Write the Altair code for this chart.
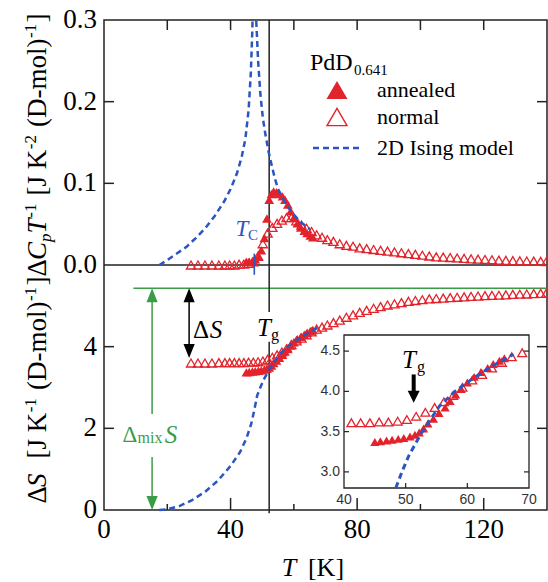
import altair as alt
import pandas as pd

# ---------------- data ----------------
T_ANN = [45.0, 45.9, 46.9, 47.8, 48.8, 49.7, 50.7, 51.5, 52.2, 52.9, 53.6, 54.5,
         55.4, 56.4, 57.2, 58.1, 59.0, 60.0, 61.1, 62.2, 63.3, 64.2, 65.2, 66.0]
C_ANN = [0.004, 0.004, 0.005, 0.007, 0.010, 0.018, 0.033, 0.057, 0.080, 0.087, 0.090, 0.089,
         0.087, 0.084, 0.080, 0.074, 0.066, 0.058, 0.051, 0.046, 0.042, 0.039, 0.036, 0.034]
S_ANN = [3.37, 3.38, 3.39, 3.40, 3.41, 3.42, 3.44, 3.46, 3.49, 3.54, 3.60, 3.66,
         3.73, 3.80, 3.88, 3.96, 4.03, 4.11, 4.18, 4.24, 4.29, 4.34, 4.38, 4.41]

T_NOR = [27.5, 29.7, 31.9, 34.1, 36.3,
         38.2, 39.7, 41.2, 42.7, 44.2, 45.7, 47.2, 48.7, 50.2, 51.7,
         53.2, 54.7, 56.2, 57.7, 59.2, 60.8, 62.4, 64.0, 65.6, 67.2,
         68.9, 70.6, 72.5, 74.5, 76.6, 78.7, 80.8, 83.0, 85.2, 87.4,
         89.6, 91.8, 94.0, 96.2, 98.4, 100.6, 102.8, 105.0, 107.2, 109.4,
         111.6, 113.8, 116.0, 118.2, 120.4, 122.6, 124.8, 127.0, 129.2, 131.4,
         133.6, 135.8, 138.0, 139.8]
C_NOR = [0.000, 0.000, 0.000, 0.000, 0.000,
         0.000, 0.000, 0.000, 0.001, 0.001, 0.002, 0.004, 0.011, 0.026, 0.039,
         0.046, 0.051, 0.055, 0.058, 0.058, 0.054, 0.049, 0.045, 0.041, 0.037,
         0.034, 0.031, 0.029, 0.026, 0.024, 0.023, 0.021, 0.020, 0.019, 0.018,
         0.017, 0.016, 0.015, 0.014, 0.013, 0.012, 0.011, 0.010, 0.0097, 0.0092,
         0.0086, 0.0081, 0.0076, 0.0072, 0.0068, 0.0064, 0.0060, 0.0057, 0.0054, 0.0051,
         0.0049, 0.0047, 0.0045, 0.0043]
S_NOR = [3.60, 3.60, 3.60, 3.60, 3.61,
         3.61, 3.61, 3.61, 3.61, 3.61, 3.62, 3.62, 3.63, 3.65, 3.69,
         3.74, 3.80, 3.87, 3.95, 4.05, 4.14, 4.21, 4.29, 4.36, 4.43,
         4.48, 4.53, 4.59, 4.65, 4.72, 4.78, 4.84, 4.89, 4.94, 4.98,
         5.02, 5.05, 5.08, 5.11, 5.13, 5.15, 5.17, 5.18, 5.19, 5.20,
         5.21, 5.22, 5.23, 5.24, 5.25, 5.255, 5.26, 5.27, 5.28, 5.285,
         5.29, 5.30, 5.305, 5.31]

ISING_TL = [17.5, 20, 23, 26, 29, 32, 35, 38, 40, 42, 43.5, 44.7, 45.7, 46.4, 46.9, 47.2]
ISING_CL = [0, 0.006, 0.014, 0.022, 0.033, 0.045, 0.060, 0.078, 0.093, 0.112, 0.132, 0.155,
            0.190, 0.235, 0.290, 0.360]
ISING_TR = [47.7, 48.1, 48.7, 49.4, 50.2, 51.0, 52.0, 53.0, 54.0, 55.0, 57.0, 59.0, 62.0, 65.0]
ISING_CR = [0.360, 0.300, 0.250, 0.210, 0.180, 0.160, 0.139, 0.122, 0.106, 0.093, 0.078,
            0.066, 0.053, 0.044]
ISING_TS = [17.5, 20, 24, 28, 32, 36, 40, 43, 45, 46.5, 47.5, 48.4, 49.5, 50.5, 52.3,
            54.0, 55.5, 58.0, 60.9, 63.5, 66.3, 67.5]
ISING_S = [0, 0.02, 0.10, 0.25, 0.45, 0.72, 1.08, 1.42, 1.75, 2.10, 2.45, 2.80, 3.02,
           3.20, 3.45, 3.65, 3.82, 4.00, 4.16, 4.29, 4.41, 4.46]

MIX_S = 5.43
T_G = 52.2
T_C = 47.5

TOP_YLABELS = [0.0, 0.1, 0.2, 0.3]
TOP_YTEXT = ["0.0", "0.1", "0.2", "0.3"]
BOT_YLABELS = [0, 2, 4]
BOT_XLABELS = [0, 40, 80, 120]
TOP_XTICKS = [20, 40, 60, 80, 100, 120]
BOT_MAJOR = [40, 80, 120]
BOT_MINOR = [20, 60, 100]
TOP_YTICKS = [0.1, 0.2]
BOT_YTICKS = [2, 4]
IN_XLABELS = [40, 50, 60, 70]
IN_XTICKS = [50, 60]
IN_YTICKS = [3.0, 3.5, 4.0, 4.5]
IN_YTEXT = ["3.0", "3.5", "4.0", "4.5"]

# ---------------- styling ----------------
SERIF = "Liberation Serif"
SANS = "Liberation Sans"
RED = "#e3232b"
BLUE = "#2c55c2"
GREEN = "#3b9c48"
INK = "#222222"
W, H = 443, 490
LBL = 27

xs = alt.Scale(domain=[0, 140], nice=False, zero=False)
ysT = alt.Scale(domain=[0, 0.3], range=[245, 0], nice=False, zero=False)
ysB = alt.Scale(domain=[0, 6], range=[490, 245], nice=False, zero=False)
xsI = alt.Scale(domain=[40, 70], range=[240, 425], nice=False, zero=False)
ysI = alt.Scale(domain=[2.8, 4.7], range=[468, 315], nice=False, zero=False)

nor = pd.DataFrame({"T": T_NOR, "C": C_NOR, "S": S_NOR})
ann = pd.DataFrame({"T": T_ANN, "C": C_ANN, "S": S_ANN})
isA = pd.DataFrame({"T": ISING_TL + ISING_TR, "C": ISING_CL + ISING_CR,
                    "b": ["L"] * len(ISING_TL) + ["R"] * len(ISING_TR)})
isB = pd.DataFrame({"T": ISING_TS, "S": ISING_S})
norI = nor[(nor["T"] >= 40) & (nor["T"] <= 70)]
annI = ann[(ann["T"] >= 40) & (ann["T"] <= 70)]
isI = isB[(isB["S"] >= 2.8)]
one = pd.DataFrame({"k": [0]})

# Times / Liberation Serif advance widths (em)
EM = {"Δ": 0.612, "C": 0.667, "p": 0.5, "T": 0.556, "S": 0.5, "-": 0.333, "1": 0.5, "2": 0.5,
      " ": 0.25, "[": 0.333, "]": 0.333, "J": 0.389, "K": 0.722, "(": 0.333,
      ")": 0.333, "D": 0.722, "m": 0.778, "o": 0.5, "l": 0.278}


def tw(s, size):
    return sum(EM.get(ch, 0.5) for ch in s) * size


def txt(text, x, y, size, color="black", style="normal", align="center", font=SERIF):
    return alt.Chart(one).mark_text(text=text, fontSize=size, fontStyle=style, color=color,
                                    align=align, baseline="middle", font=font).encode(
        x=alt.value(x), y=alt.value(y))


def vtitle(pieces, bx, center_y):
    """Rotated (reading upward) title from pieces: (text, size, style, shift, gap_before_em)."""
    total = sum(tw(p[0], p[1]) + p[4] * p[1] for p in pieces)
    y = center_y + total / 2.0
    out = []
    for text, size, style, shift, gap in pieces:
        y -= gap * size
        out.append(alt.Chart(one).mark_text(text=text, fontSize=size, fontStyle=style,
                                            color="black", align="left", baseline="alphabetic",
                                            angle=270, font=SERIF).encode(
            x=alt.value(bx + shift), y=alt.value(y)))
        y -= tw(text, size)
    return out


def head(path, size, color):
    return dict(shape=path, size=size, filled=True, color=color, opacity=1, strokeWidth=0)


UP = "M0,0L-0.8,2L0.8,2Z"
DOWN = "M0,0L-0.8,-2L0.8,-2Z"
DOWN_I = "M0,0L-1,-2L1,-2Z"

layers = []

# ---------------- top panel ----------------
layers.append(alt.Chart(pd.DataFrame({"v": TOP_YTICKS})).mark_rule(color=INK, strokeWidth=1.5).encode(
    x=alt.value(0), x2=alt.value(10), y=alt.Y("v:Q", scale=ysT, axis=None)))
layers.append(alt.Chart(pd.DataFrame({"v": TOP_YTICKS})).mark_rule(color=INK, strokeWidth=1.5).encode(
    x=alt.value(W), x2=alt.value(W - 10), y=alt.Y("v:Q", scale=ysT, axis=None)))
layers.append(alt.Chart(pd.DataFrame({"v": TOP_XTICKS})).mark_rule(color=INK, strokeWidth=1.5).encode(
    x=alt.X("v:Q", scale=xs, axis=None), y=alt.value(0), y2=alt.value(10)))
layers.append(alt.Chart(pd.DataFrame({"v": TOP_YLABELS, "t": TOP_YTEXT})).mark_text(
    font=SERIF, fontSize=LBL, color="black", align="right", baseline="middle").encode(
    x=alt.value(-7), y=alt.Y("v:Q", scale=ysT, axis=None), text="t:N"))
layers.append(alt.Chart(pd.DataFrame({"v": [0.0]})).mark_rule(color=INK, strokeWidth=1.5).encode(
    x=alt.value(0), x2=alt.value(W), y=alt.Y("v:Q", scale=ysT, axis=None)))
layers.append(alt.Chart(pd.DataFrame({"T": [T_G]})).mark_rule(color=INK, strokeWidth=1.5).encode(
    x=alt.X("T:Q", scale=xs, axis=None), y=alt.value(0), y2=alt.value(245)))
layers.append(alt.Chart(nor).mark_point(shape="triangle-up", filled=False, color=RED, size=85,
                                        strokeWidth=1.3, opacity=1).encode(
    x=alt.X("T:Q", scale=xs, axis=None), y=alt.Y("C:Q", scale=ysT, axis=None)))
layers.append(alt.Chart(ann).mark_point(shape="triangle-up", filled=True, color=RED, size=95,
                                        opacity=1).encode(
    x=alt.X("T:Q", scale=xs, axis=None), y=alt.Y("C:Q", scale=ysT, axis=None)))
layers.append(alt.Chart(isA).mark_line(color=BLUE, strokeDash=[6, 4], strokeWidth=2.5, clip=True).encode(
    x=alt.X("T:Q", scale=xs, axis=None), y=alt.Y("C:Q", scale=ysT, axis=None), detail="b:N"))
layers.append(alt.Chart(pd.DataFrame({"T": [T_C], "a": [0.014], "b": [-0.012]})).mark_rule(
    color=BLUE, strokeWidth=1.6).encode(
    x=alt.X("T:Q", scale=xs, axis=None), y=alt.Y("a:Q", scale=ysT, axis=None), y2="b:Q"))

# ---------------- bottom panel ----------------
layers.append(alt.Chart(pd.DataFrame({"v": BOT_YTICKS})).mark_rule(color=INK, strokeWidth=1.5).encode(
    x=alt.value(0), x2=alt.value(10), y=alt.Y("v:Q", scale=ysB, axis=None)))
layers.append(alt.Chart(pd.DataFrame({"v": BOT_YTICKS})).mark_rule(color=INK, strokeWidth=1.5).encode(
    x=alt.value(W), x2=alt.value(W - 10), y=alt.Y("v:Q", scale=ysB, axis=None)))
layers.append(alt.Chart(pd.DataFrame({"v": BOT_MAJOR})).mark_rule(color=INK, strokeWidth=1.5).encode(
    x=alt.X("v:Q", scale=xs, axis=None), y=alt.value(H), y2=alt.value(H - 12)))
layers.append(alt.Chart(pd.DataFrame({"v": BOT_MINOR})).mark_rule(color=INK, strokeWidth=1.5).encode(
    x=alt.X("v:Q", scale=xs, axis=None), y=alt.value(H), y2=alt.value(H - 6)))
layers.append(alt.Chart(pd.DataFrame({"v": BOT_YLABELS})).mark_text(
    font=SERIF, fontSize=LBL, color="black", align="right", baseline="middle").encode(
    x=alt.value(-7), y=alt.Y("v:Q", scale=ysB, axis=None), text=alt.Text("v:Q", format="d")))
layers.append(alt.Chart(pd.DataFrame({"v": BOT_XLABELS})).mark_text(
    font=SERIF, fontSize=LBL, color="black", align="center", baseline="middle").encode(
    x=alt.X("v:Q", scale=xs, axis=None), y=alt.value(H + 20), text=alt.Text("v:Q", format="d")))
layers.append(alt.Chart(pd.DataFrame({"a": [9.3], "b": [140], "S": [MIX_S]})).mark_rule(
    color=GREEN, strokeWidth=1.4).encode(
    x=alt.X("a:Q", scale=xs, axis=None), x2="b:Q", y=alt.Y("S:Q", scale=ysB, axis=None)))
layers.append(alt.Chart(pd.DataFrame({"T": [T_G, T_G], "a": [6.0, 4.12], "b": [4.85, -0.08]})).mark_rule(
    color=INK, strokeWidth=1.5).encode(
    x=alt.X("T:Q", scale=xs, axis=None), y=alt.Y("a:Q", scale=ysB, axis=None), y2="b:Q"))
layers.append(alt.Chart(pd.DataFrame({"T": [15.2, 15.2], "a": [MIX_S - 0.3, 1.3], "b": [2.35, 0.3]})).mark_rule(
    color=GREEN, strokeWidth=1.5).encode(
    x=alt.X("T:Q", scale=xs, axis=None), y=alt.Y("a:Q", scale=ysB, axis=None), y2="b:Q"))
layers.append(alt.Chart(pd.DataFrame({"T": [15.2], "S": [MIX_S]})).mark_point(**head(UP, 196, GREEN)).encode(
    x=alt.X("T:Q", scale=xs, axis=None), y=alt.Y("S:Q", scale=ysB, axis=None)))
layers.append(alt.Chart(pd.DataFrame({"T": [15.2], "S": [0.0]})).mark_point(**head(DOWN, 196, GREEN)).encode(
    x=alt.X("T:Q", scale=xs, axis=None), y=alt.Y("S:Q", scale=ysB, axis=None)))
layers.append(alt.Chart(pd.DataFrame({"T": [26.9], "a": [MIX_S - 0.3], "b": [3.95]})).mark_rule(
    color="black", strokeWidth=1.5).encode(
    x=alt.X("T:Q", scale=xs, axis=None), y=alt.Y("a:Q", scale=ysB, axis=None), y2="b:Q"))
layers.append(alt.Chart(pd.DataFrame({"T": [26.9], "S": [MIX_S]})).mark_point(**head(UP, 196, "black")).encode(
    x=alt.X("T:Q", scale=xs, axis=None), y=alt.Y("S:Q", scale=ysB, axis=None)))
layers.append(alt.Chart(pd.DataFrame({"T": [26.9], "S": [3.72]})).mark_point(**head(DOWN, 196, "black")).encode(
    x=alt.X("T:Q", scale=xs, axis=None), y=alt.Y("S:Q", scale=ysB, axis=None)))
layers.append(alt.Chart(nor).mark_point(shape="triangle-up", filled=False, color=RED, size=85,
                                        strokeWidth=1.3, opacity=1).encode(
    x=alt.X("T:Q", scale=xs, axis=None), y=alt.Y("S:Q", scale=ysB, axis=None)))
layers.append(alt.Chart(ann).mark_point(shape="triangle-up", filled=True, color=RED, size=95,
                                        opacity=1).encode(
    x=alt.X("T:Q", scale=xs, axis=None), y=alt.Y("S:Q", scale=ysB, axis=None)))
layers.append(alt.Chart(isB).mark_line(color=BLUE, strokeDash=[6, 4], strokeWidth=2.5).encode(
    x=alt.X("T:Q", scale=xs, axis=None), y=alt.Y("S:Q", scale=ysB, axis=None)))

# ---------------- inset ----------------
layers.append(alt.Chart(pd.DataFrame({"a": [40], "b": [70], "c": [2.8], "d": [4.7]})).mark_rect(
    fill="white", stroke=INK, strokeWidth=1.3).encode(
    x=alt.X("a:Q", scale=xsI, axis=None), x2="b:Q", y=alt.Y("c:Q", scale=ysI, axis=None), y2="d:Q"))
layers.append(alt.Chart(pd.DataFrame({"v": IN_YTICKS})).mark_rule(color=INK, strokeWidth=1.2).encode(
    x=alt.value(240), x2=alt.value(245), y=alt.Y("v:Q", scale=ysI, axis=None)))
layers.append(alt.Chart(pd.DataFrame({"v": IN_YTICKS})).mark_rule(color=INK, strokeWidth=1.2).encode(
    x=alt.value(425), x2=alt.value(420), y=alt.Y("v:Q", scale=ysI, axis=None)))
layers.append(alt.Chart(pd.DataFrame({"v": IN_XTICKS})).mark_rule(color=INK, strokeWidth=1.2).encode(
    x=alt.X("v:Q", scale=xsI, axis=None), y=alt.value(468), y2=alt.value(463)))
layers.append(alt.Chart(pd.DataFrame({"v": IN_YTICKS, "t": IN_YTEXT})).mark_text(
    font=SANS, fontSize=14, color="#333333", align="right", baseline="middle").encode(
    x=alt.value(236), y=alt.Y("v:Q", scale=ysI, axis=None), text="t:N"))
layers.append(alt.Chart(pd.DataFrame({"v": IN_XLABELS})).mark_text(
    font=SANS, fontSize=14, color="#333333", align="center", baseline="middle").encode(
    x=alt.X("v:Q", scale=xsI, axis=None), y=alt.value(480), text=alt.Text("v:Q", format="d")))
layers.append(alt.Chart(norI).mark_point(shape="triangle-up", filled=False, color=RED, size=80,
                                         strokeWidth=1.3, opacity=1).encode(
    x=alt.X("T:Q", scale=xsI, axis=None), y=alt.Y("S:Q", scale=ysI, axis=None)))
layers.append(alt.Chart(annI).mark_point(shape="triangle-up", filled=True, color=RED, size=85,
                                         opacity=1).encode(
    x=alt.X("T:Q", scale=xsI, axis=None), y=alt.Y("S:Q", scale=ysI, axis=None)))
layers.append(alt.Chart(isI).mark_line(color=BLUE, strokeDash=[6, 4], strokeWidth=3).encode(
    x=alt.X("T:Q", scale=xsI, axis=None), y=alt.Y("S:Q", scale=ysI, axis=None)))
layers.append(alt.Chart(pd.DataFrame({"T": [51.3], "a": [4.21], "b": [3.98]})).mark_rule(
    color="black", strokeWidth=4).encode(
    x=alt.X("T:Q", scale=xsI, axis=None), y=alt.Y("a:Q", scale=ysI, axis=None), y2="b:Q"))
layers.append(alt.Chart(pd.DataFrame({"T": [51.3], "S": [3.86]})).mark_point(**head(DOWN_I, 144, "black")).encode(
    x=alt.X("T:Q", scale=xsI, axis=None), y=alt.Y("S:Q", scale=ysI, axis=None)))

# ---------------- axis titles ----------------
TS, SS = 27, 17
layers += vtitle([("Δ", TS, "normal", 0, 0), ("C", TS, "italic", 0, 0), ("p", SS, "italic", 5, 0),
                  ("T", TS, "italic", 0, 0), ("-1", SS, "normal", -10, 0.05),
                  ("[J K", TS, "normal", 0, 0.3), ("-2", SS, "normal", -10, 0.03),
                  ("(D-mol)", TS, "normal", 0, 0.3), ("-1", SS, "normal", -10, 0.03),
                  ("]", TS, "normal", 0, 0.05)], -58, 125)
layers += vtitle([("Δ", TS, "normal", 0, 0), ("S", TS, "italic", 0, 0),
                  ("[J K", TS, "normal", 0, 0.55), ("-1", SS, "normal", -10, 0.03),
                  ("(D-mol)", TS, "normal", 0, 0.3), ("-1", SS, "normal", -10, 0.03),
                  ("]", TS, "normal", 0, 0.05)], -58, 370)

# ---------------- annotations & legend ----------------
layers += [
    txt("T", 138, 209, 23, BLUE, "italic"),
    txt("C", 149, 215, 15, BLUE),
    txt("T", 160, 308, 25, "black", "italic"),
    txt("g", 171, 315, 16),
    txt("Δ", 97, 310, 25),
    txt("S", 112, 310, 25, "black", "italic"),
    txt("Δ", 26, 415, 23, GREEN),
    txt("mix", 46, 418, 16, GREEN),
    txt("S", 67, 415, 25, GREEN, "italic"),
    txt("T", 305, 340, 25, "black", "italic"),
    txt("g", 317, 347, 16),
    txt("T", 185, 548, 26, "black", "italic"),
    txt("[K]", 222, 548, 26),
    txt("PdD", 206, 43, 24, align="left"),
    txt("0.641", 250, 50, 15, align="left"),
    txt("annealed", 273, 70, 22, align="left"),
    txt("normal", 273, 97, 22, align="left"),
    txt("2D Ising model", 273, 128, 22, align="left"),
]
layers.append(alt.Chart(one).mark_point(shape="triangle-up", filled=True, color=RED, size=441,
                                        opacity=1).encode(x=alt.value(233), y=alt.value(70)))
layers.append(alt.Chart(one).mark_point(shape="triangle-up", filled=False, color=RED, size=400,
                                        strokeWidth=1.4, opacity=1).encode(x=alt.value(233), y=alt.value(97)))
layers.append(alt.Chart(one).mark_rule(color=BLUE, strokeDash=[6, 4], strokeWidth=2.5).encode(
    x=alt.value(209), x2=alt.value(258), y=alt.value(128)))

chart = alt.layer(*layers).resolve_scale(x="independent", y="independent").properties(
    width=W, height=H,
    autosize=alt.AutoSizeParams(type="none"),
    padding={"left": 104, "top": 20, "right": 1, "bottom": 72},
    background="white",
).configure_view(stroke=INK, strokeWidth=1.5)

chart.save("out.html", embed_options={"renderer": "svg", "actions": False})
